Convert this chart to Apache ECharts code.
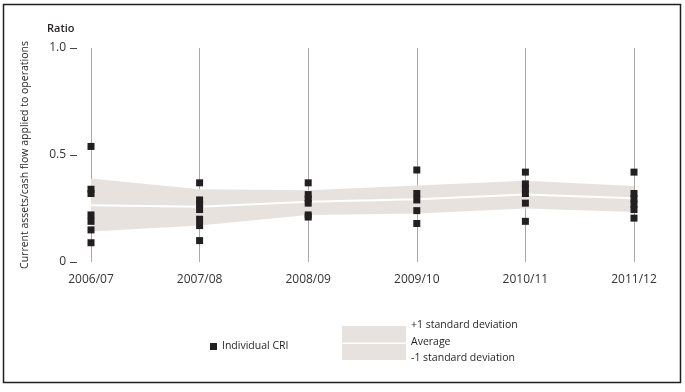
<!DOCTYPE html>
<html>
<head>
<meta charset="utf-8">
<script src="https://cdn.jsdelivr.net/npm/echarts@6/dist/echarts.min.js"></script>
<style>
html,body{margin:0;padding:0;background:#fff;}
#c{width:685px;height:392px;}
</style>
</head>
<body>
<div id="c"></div>
<script>
var categories = ['2006/07','2007/08','2008/09','2009/10','2010/11','2011/12'];
var cri0607 = [0.54, 0.34, 0.32, 0.22, 0.19, 0.15, 0.09];
var cri0708 = [0.37, 0.29, 0.27, 0.245, 0.20, 0.17, 0.10];
var cri0809 = [0.37, 0.315, 0.295, 0.275, 0.22, 0.21];
var cri0910 = [0.43, 0.32, 0.29, 0.24, 0.18];
var cri1011 = [0.42, 0.365, 0.345, 0.32, 0.275, 0.19];
var cri1112 = [0.42, 0.32, 0.295, 0.27, 0.245, 0.205];
var upperSD = [0.39, 0.34, 0.335, 0.358, 0.38, 0.355];
var average = [0.265, 0.258, 0.282, 0.293, 0.315, 0.298];
var lowerSD = [0.142, 0.17, 0.22, 0.227, 0.25, 0.234];
var yTicks = [0, 0.5, 1.0];

var criByYear = [cri0607, cri0708, cri0809, cri0910, cri1011, cri1112];
var scatterData = [];
criByYear.forEach(function(arr, i){ arr.forEach(function(v){ scatterData.push([categories[i], v]); }); });
var bandDiff = upperSD.map(function(u, i){ return +(u - lowerSD[i]).toFixed(4); });

var FONT = 'Open Sans';
var DARK = '#231f20';
var BAND = '#e8e2df';

var chart = echarts.init(document.getElementById('c'), null, {renderer:'canvas'});
chart.setOption({
  animation: false,
  backgroundColor: '#fff',
  textStyle: {fontFamily: FONT},
  grid: {left: 91, right: 51, top: 48, bottom: 130, containLabel: false},
  legend: {
    data: [{name: 'Individual CRI', icon: 'rect'}],
    left: 205, top: 336, itemWidth: 7, itemHeight: 7, itemGap: 6,
    itemStyle: {opacity: 1},
    textStyle: {fontFamily: FONT, fontSize: 10.5, color: DARK, padding: [0,0,0,0]}
  },
  xAxis: {
    type: 'category', data: categories, boundaryGap: false,
    axisLine: {show: false}, axisTick: {show: false},
    axisLabel: {margin: 12, fontFamily: FONT, fontSize: 12, color: '#333'},
    splitLine: {show: true, lineStyle: {color: '#a8a8a8', width: 1}}
  },
  yAxis: {
    type: 'value', min: 0, max: 1, interval: 0.5, offset: 14,
    name: 'Current assets/cash flow applied to operations',
    nameLocation: 'middle', nameGap: 46,
    nameTextStyle: {fontFamily: FONT, fontSize: 10.5, color: DARK},
    axisLine: {show: false},
    axisTick: {show: true, length: 7, lineStyle: {color: '#444', width: 1}},
    axisLabel: {margin: 11, fontFamily: FONT, fontSize: 12, color: '#333',
      formatter: function(v){ return v === 0 ? '0' : v.toFixed(1); }},
    splitLine: {show: false}
  },
  series: [
    {name: 'lower', type: 'line', stack: 'band', data: lowerSD, symbol: 'none',
     lineStyle: {opacity: 0}, silent: true, z: 1},
    {name: 'band', type: 'line', stack: 'band', data: bandDiff, symbol: 'none',
     lineStyle: {opacity: 0}, areaStyle: {color: BAND, opacity: 1}, silent: true, z: 1},
    {name: 'Average', type: 'line', data: average, symbol: 'none',
     lineStyle: {color: '#fff', width: 2}, z: 2},
    {name: 'Individual CRI', type: 'scatter', data: scatterData, symbol: 'rect',
     symbolSize: 7, itemStyle: {color: DARK, opacity: 1}, z: 3}
  ],
  graphic: [
    {type: 'rect', shape: {x: 3.5, y: 4.5, width: 677, height: 378},
     style: {fill: null, stroke: DARK, lineWidth: 1.5}, silent: true},
    {type: 'text', left: 47, top: 23,
     style: {text: 'Ratio', fontFamily: FONT, fontSize: 11, fontWeight: 600, fill: DARK}},
    {type: 'rect', shape: {x: 342, y: 326, width: 64, height: 16.5}, style: {fill: BAND}},
    {type: 'rect', shape: {x: 342, y: 344, width: 64, height: 16}, style: {fill: BAND}},
    {type: 'text', left: 411, top: 320,
     style: {text: '+1 standard deviation', fontFamily: FONT, fontSize: 10.5, fill: DARK}},
    {type: 'text', left: 411, top: 337,
     style: {text: 'Average', fontFamily: FONT, fontSize: 10.5, fill: DARK}},
    {type: 'text', left: 411, top: 353,
     style: {text: '-1 standard deviation', fontFamily: FONT, fontSize: 10.5, fill: DARK}}
  ]
});
</script>
</body>
</html>
